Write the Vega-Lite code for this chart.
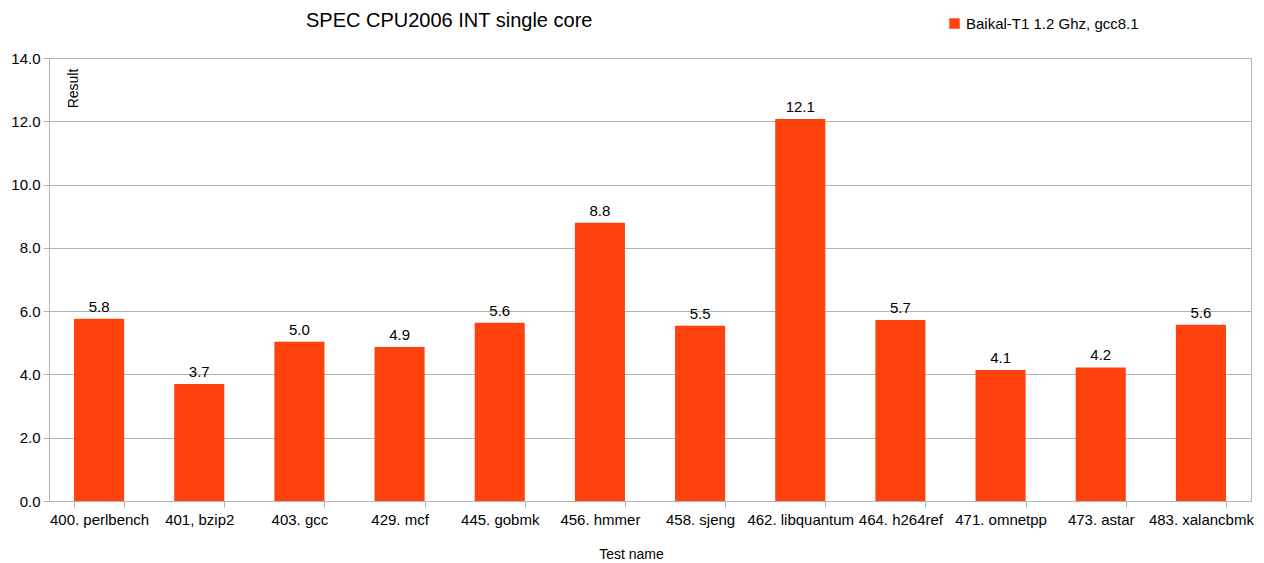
{
  "$schema": "https://vega.github.io/schema/vega-lite/v6.json",
  "width": 1202,
  "height": 443,
  "autosize": "none",
  "padding": {"left": 49, "top": 58, "right": 13, "bottom": 62},
  "background": "white",
  "config": {
    "font": "Liberation Sans",
    "view": {"stroke": "#b3b3b3", "strokeWidth": 1}
  },
  "title": {
    "text": "SPEC CPU2006 INT single core",
    "anchor": "start",
    "frame": "group",
    "dx": 257,
    "offset": 0,
    "dy": 15,
    "fontSize": 20,
    "fontWeight": "normal",
    "color": "#000000",
    "font": "Liberation Sans"
  },
  "data": {
    "values": [
      {"test": "400. perlbench", "result": 5.76, "series": "Baikal-T1 1.2 Ghz, gcc8.1"},
      {"test": "401, bzip2", "result": 3.70, "series": "Baikal-T1 1.2 Ghz, gcc8.1"},
      {"test": "403. gcc", "result": 5.03, "series": "Baikal-T1 1.2 Ghz, gcc8.1"},
      {"test": "429. mcf", "result": 4.87, "series": "Baikal-T1 1.2 Ghz, gcc8.1"},
      {"test": "445. gobmk", "result": 5.63, "series": "Baikal-T1 1.2 Ghz, gcc8.1"},
      {"test": "456. hmmer", "result": 8.79, "series": "Baikal-T1 1.2 Ghz, gcc8.1"},
      {"test": "458. sjeng", "result": 5.54, "series": "Baikal-T1 1.2 Ghz, gcc8.1"},
      {"test": "462. libquantum", "result": 12.07, "series": "Baikal-T1 1.2 Ghz, gcc8.1"},
      {"test": "464. h264ref", "result": 5.72, "series": "Baikal-T1 1.2 Ghz, gcc8.1"},
      {"test": "471. omnetpp", "result": 4.14, "series": "Baikal-T1 1.2 Ghz, gcc8.1"},
      {"test": "473. astar", "result": 4.22, "series": "Baikal-T1 1.2 Ghz, gcc8.1"},
      {"test": "483. xalancbmk", "result": 5.57, "series": "Baikal-T1 1.2 Ghz, gcc8.1"}
    ]
  },
  "encoding": {
    "x": {
      "field": "test",
      "type": "nominal",
      "sort": null,
      "scale": {"paddingInner": 0.5, "paddingOuter": 0.25},
      "axis": {
        "title": "Test name",
        "titleFontSize": 14,
        "titleFontWeight": "normal",
        "titleColor": "#000000",
        "titleX": 582,
        "titleY": 53,
        "titleAlign": "center",
        "titleBaseline": "middle",
        "labelAngle": 0,
        "labelFontSize": 15,
        "labelColor": "#000000",
        "labelPadding": 5,
        "labelOverlap": false,
        "tickBand": "extent",
        "tickSize": 6,
        "tickColor": "#b3b3b3",
        "domainColor": "#b3b3b3",
        "grid": false
      }
    },
    "y": {
      "field": "result",
      "type": "quantitative",
      "scale": {"domain": [0, 14], "nice": false},
      "axis": {
        "title": "Result",
        "titleFontSize": 14,
        "titleFontWeight": "normal",
        "titleColor": "#000000",
        "titleAngle": 270,
        "titleX": 24,
        "titleY": 30,
        "titleAlign": "center",
        "titleBaseline": "middle",
        "values": [0, 2, 4, 6, 8, 10, 12, 14],
        "format": ".1f",
        "labelFontSize": 15,
        "labelColor": "#000000",
        "labelPadding": 3,
        "tickSize": 6,
        "tickColor": "#b3b3b3",
        "domainColor": "#b3b3b3",
        "gridColor": "#b3b3b3",
        "grid": true
      }
    }
  },
  "layer": [
    {
      "mark": {"type": "bar"},
      "encoding": {
        "color": {
          "field": "series",
          "type": "nominal",
          "scale": {"range": ["#ff420e"]},
          "legend": {
            "title": null,
            "orient": "none",
            "legendX": 898,
            "legendY": -42,
            "symbolType": "square",
            "symbolSize": 110,
            "symbolStrokeWidth": 0,
            "labelFontSize": 15,
            "labelLimit": 400,
            "labelColor": "#000000",
            "labelOffset": 4
          }
        }
      }
    },
    {
      "mark": {"type": "text", "baseline": "bottom", "dy": -4, "fontSize": 15, "color": "#000000"},
      "encoding": {
        "text": {"field": "result", "type": "quantitative", "format": ".1f"}
      }
    }
  ]
}
